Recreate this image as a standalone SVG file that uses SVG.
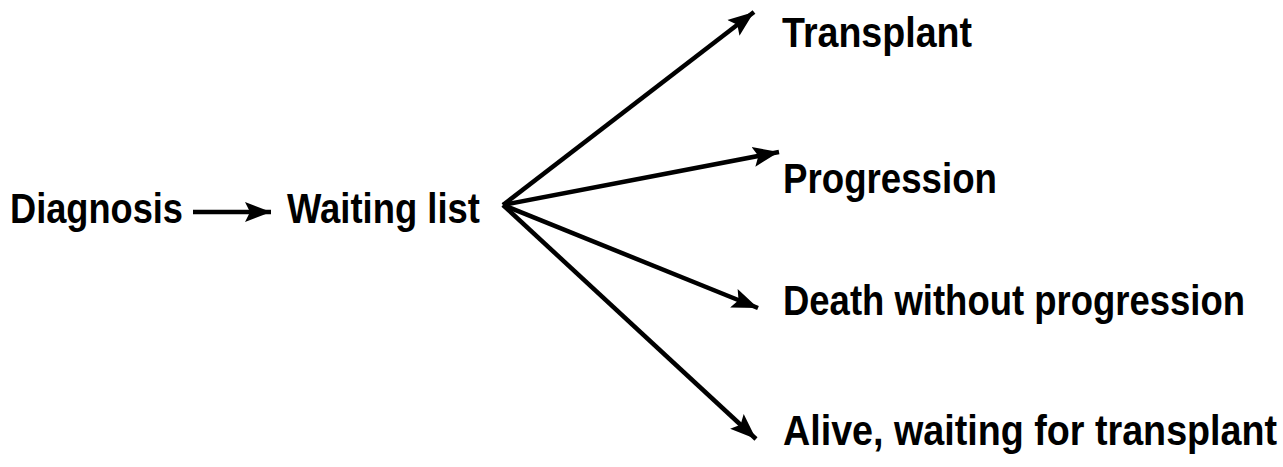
<svg xmlns="http://www.w3.org/2000/svg" width="1283" height="467" viewBox="0 0 1283 467">
<style>
text{font-family:"Liberation Sans",Arial,sans-serif;font-weight:bold;font-size:42px;fill:#000}
.c{stroke:#000;stroke-width:4.5;fill:none}
</style>
<defs>
<marker id="ah" markerUnits="userSpaceOnUse" markerWidth="28" markerHeight="22" refX="26" refY="11" orient="auto">
<path d="M0,1 L26,11 L0,21 L5,11 Z" fill="#000"/>
</marker>
</defs>
<rect width="1283" height="467" fill="#fff"/>
<g id="connectors">
<line class="c" x1="193" y1="212" x2="271" y2="212" marker-end="url(#ah)"/>
<line class="c" x1="503" y1="205" x2="754" y2="12" marker-end="url(#ah)"/>
<line class="c" x1="503" y1="205" x2="779" y2="152" marker-end="url(#ah)"/>
<line class="c" x1="503" y1="205" x2="758" y2="308" marker-end="url(#ah)"/>
<line class="c" x1="503" y1="205" x2="756" y2="439" marker-end="url(#ah)"/>
</g>
<g id="diagnosis"><text x="10" y="223" textLength="173" lengthAdjust="spacingAndGlyphs">Diagnosis</text></g>
<g id="waiting"><text x="287" y="223" textLength="193" lengthAdjust="spacingAndGlyphs">Waiting list</text></g>
<g id="transplant"><text x="782" y="47" textLength="190" lengthAdjust="spacingAndGlyphs">Transplant</text></g>
<g id="progression"><text x="783" y="193" textLength="214" lengthAdjust="spacingAndGlyphs">Progression</text></g>
<g id="death"><text transform="translate(783,315) scale(0.87,1)" x="0" y="0" textLength="531" lengthAdjust="spacingAndGlyphs">Death without progression</text></g>
<g id="alive"><text transform="translate(783,445) scale(0.9,1)" x="0" y="0" textLength="549" lengthAdjust="spacingAndGlyphs">Alive, waiting for transplant</text></g>
</svg>
